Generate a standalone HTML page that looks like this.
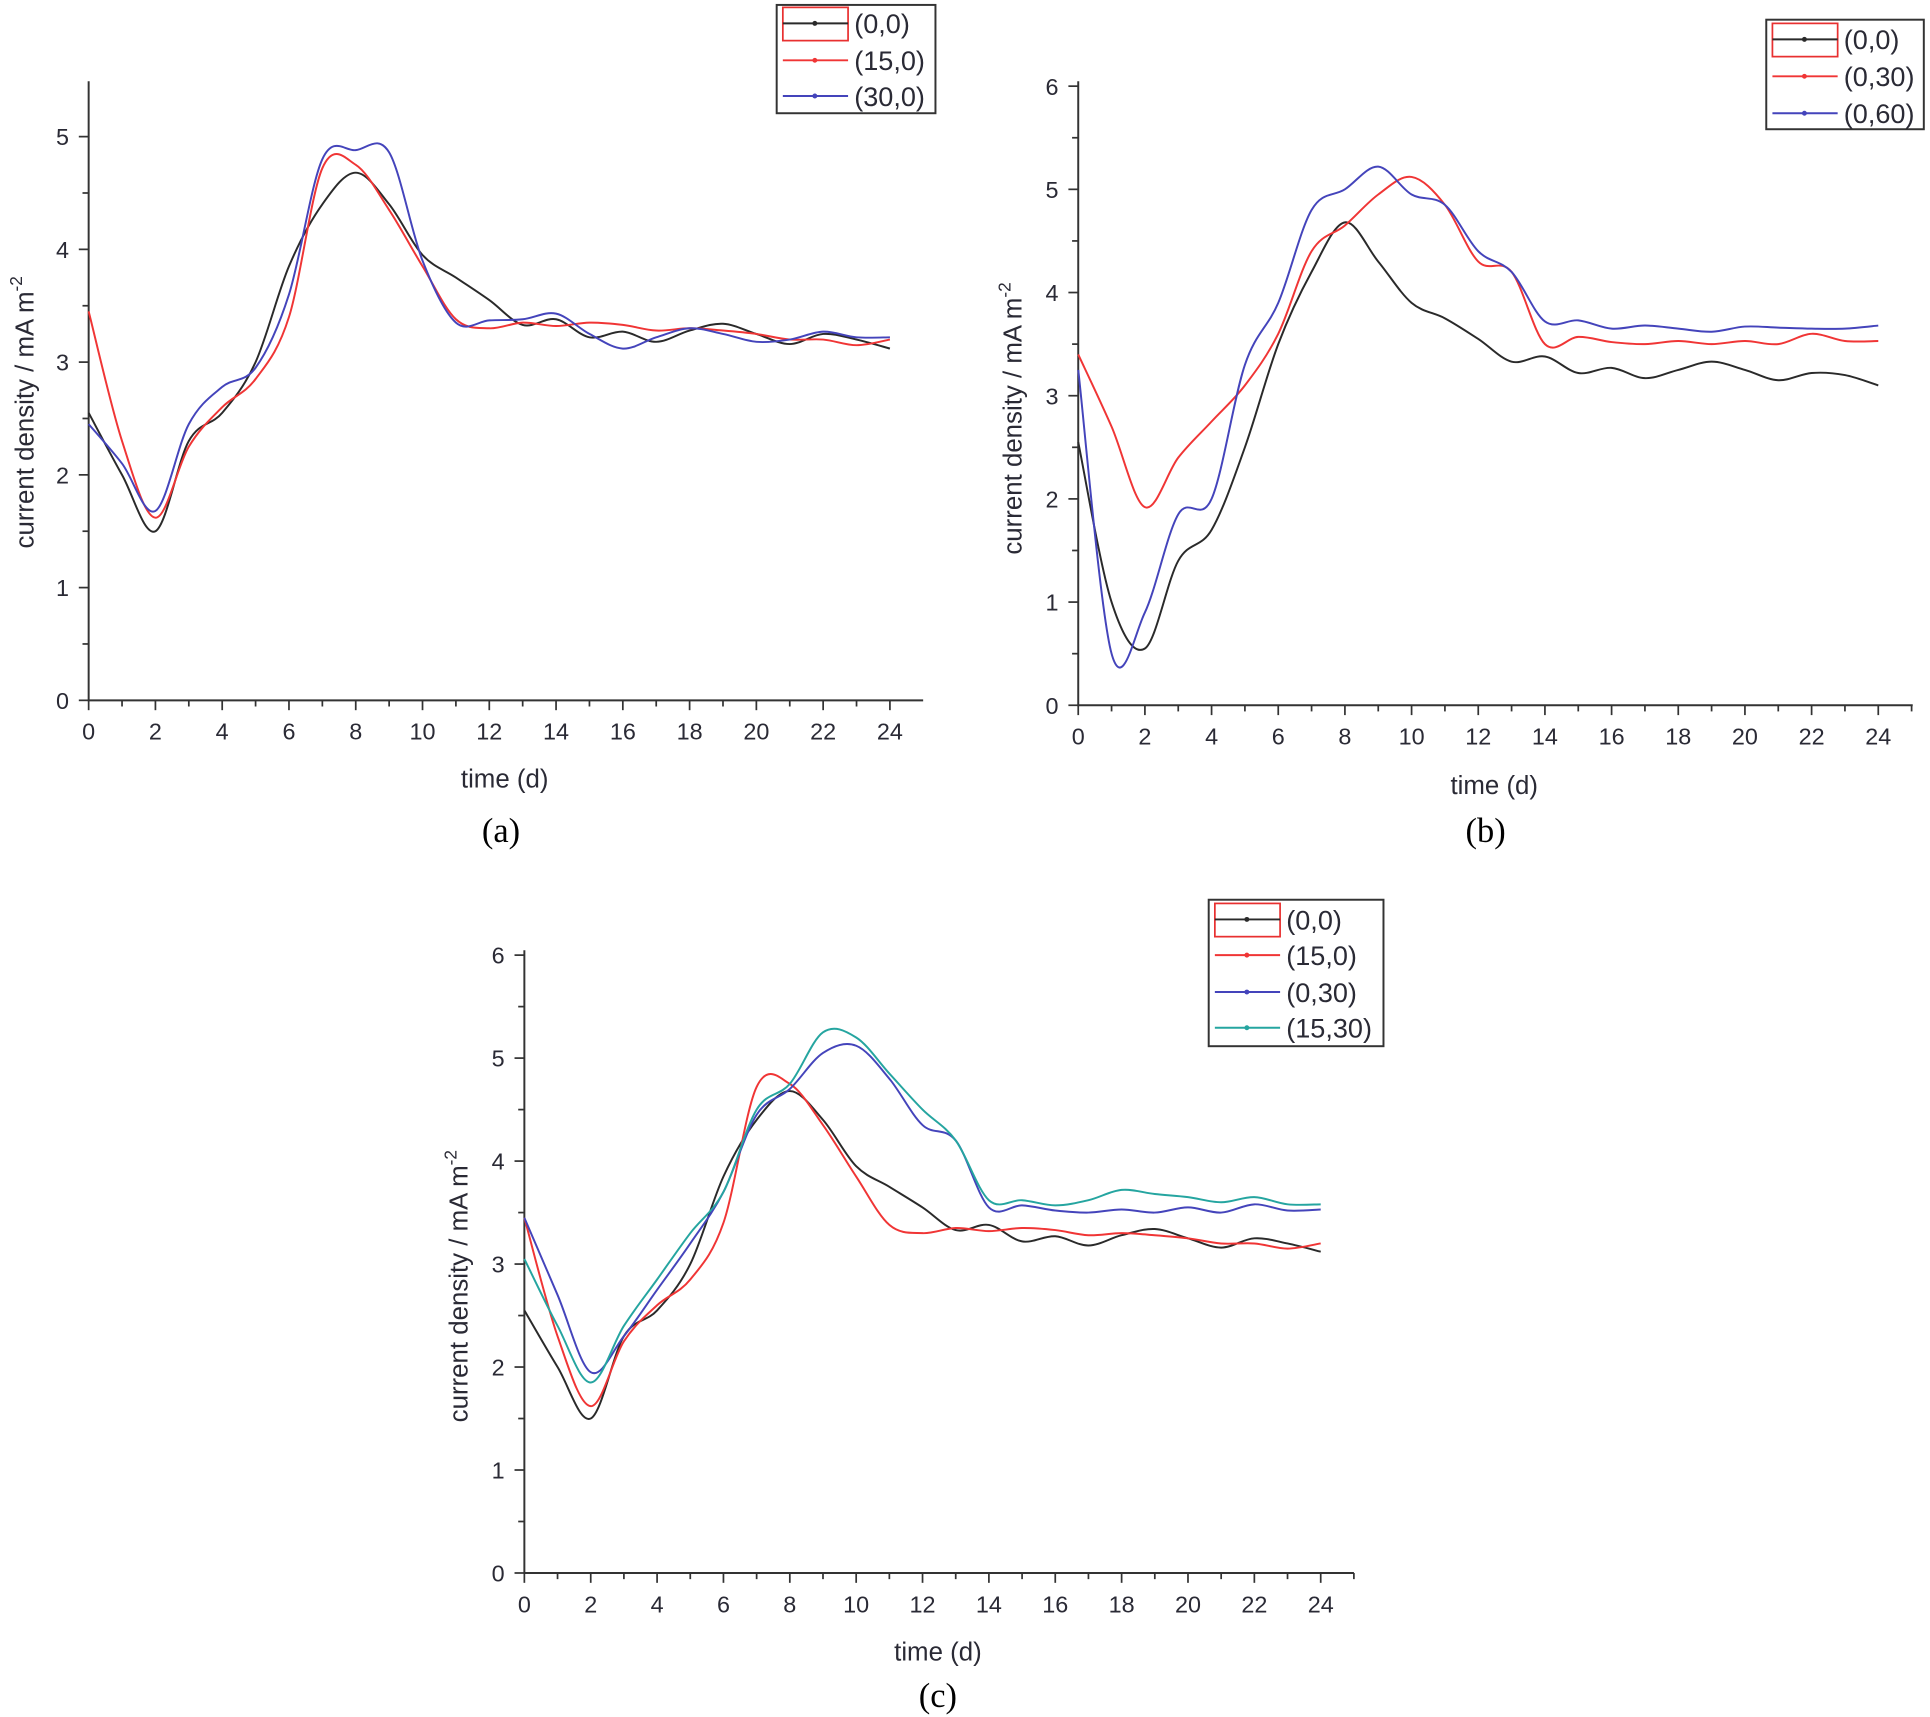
<!DOCTYPE html>
<html><head><meta charset="utf-8"><style>
html,body{margin:0;padding:0;background:#fff;}
svg{display:block;}
text{font-family:"Liberation Sans",Arial,sans-serif;fill:#2a2a35;}
.cap{font-family:"Liberation Serif","Times New Roman",serif;fill:#000;}
</style></head><body>
<svg id="fig" width="1930" height="1717" viewBox="0 0 1568 1395" xmlns="http://www.w3.org/2000/svg"></svg>
<script>
const days = [0,1,2,3,4,5,6,7,8,9,10,11,12,13,14,15,16,17,18,19,20,21,22,23,24];
const aBlack = [2.55,2.0,1.5,2.3,2.55,3.0,3.85,4.4,4.68,4.4,3.95,3.75,3.55,3.33,3.38,3.22,3.27,3.18,3.28,3.34,3.25,3.16,3.25,3.2,3.12];
const aRed = [3.45,2.3,1.62,2.25,2.6,2.85,3.4,4.72,4.75,4.35,3.85,3.38,3.3,3.35,3.32,3.35,3.33,3.28,3.3,3.28,3.25,3.2,3.2,3.15,3.2];
const aBlue = [2.45,2.1,1.68,2.45,2.78,2.95,3.6,4.8,4.88,4.86,3.9,3.35,3.37,3.38,3.43,3.25,3.12,3.22,3.3,3.25,3.18,3.2,3.27,3.22,3.22];
const bBlack = [2.55,1.0,0.55,1.4,1.7,2.5,3.5,4.2,4.68,4.3,3.9,3.75,3.55,3.33,3.38,3.22,3.27,3.17,3.25,3.33,3.25,3.15,3.22,3.2,3.1];
const bRed = [3.4,2.7,1.92,2.4,2.75,3.1,3.6,4.4,4.65,4.95,5.12,4.85,4.3,4.2,3.5,3.57,3.52,3.5,3.53,3.5,3.53,3.5,3.6,3.53,3.53];
const bBlue = [3.25,0.5,0.9,1.85,2.0,3.3,3.9,4.8,5.0,5.22,4.95,4.85,4.4,4.2,3.72,3.73,3.65,3.68,3.65,3.62,3.67,3.66,3.65,3.65,3.68];
const cBlack = aBlack;
const cRed = aRed;
const cBlue = [3.45,2.7,1.95,2.3,2.75,3.2,3.7,4.45,4.7,5.05,5.12,4.8,4.35,4.2,3.55,3.57,3.52,3.5,3.53,3.5,3.55,3.5,3.58,3.52,3.53];
const cTeal = [3.05,2.4,1.85,2.4,2.85,3.3,3.7,4.5,4.75,5.25,5.2,4.85,4.5,4.2,3.62,3.62,3.57,3.62,3.72,3.68,3.65,3.6,3.65,3.58,3.58];
const xTicks = [0,2,4,6,8,10,12,14,16,18,20,22,24];
const yTicksA = [0,1,2,3,4,5];
const yTicksB = [0,1,2,3,4,5,6];

const NS="http://www.w3.org/2000/svg";
const svg=document.getElementById('fig');
function el(tag,attrs,parent){const e=document.createElementNS(NS,tag);for(const k in attrs)e.setAttribute(k,attrs[k]);(parent||svg).appendChild(e);return e;}

function panel(cfg){
  const g=el('g',{});
  
  
  const sx=v=>cfg.x0+(cfg.x1-cfg.x0)*v/24;
  const sy=v=>cfg.y0-(cfg.y0-cfg.yTop)*v/cfg.ymaxTick;
  // axes
  const ax=el('path',{d:`M${cfg.x0} ${cfg.axTop} L${cfg.x0} ${cfg.y0} L${cfg.axRight} ${cfg.y0}`,stroke:'#333',fill:'none','stroke-width':1.6},g);
  
  
  for(let d=0;d<=25;d++){
    const x=sx(d); if(x>cfg.axRight)break;
    el('line',{x1:x,x2:x,y1:cfg.y0,y2:cfg.y0+(d%2?5:8),stroke:'#333','stroke-width':1.4},g);
  }
  xTicks.forEach(t=>{
    const tx=el('text',{x:sx(t),y:cfg.y0+32,'font-size':19,'text-anchor':'middle'},g);
    tx.textContent=t;
    
    
  });
  const yt=cfg.yTicks;
  for(let v=0;v<=cfg.ymaxTick+0.5;v+=0.5){
    const y=sy(v); if(y<cfg.axTop)break;
    el('line',{x1:cfg.x0,x2:cfg.x0-(v%1?5:8),y1:y,y2:y,stroke:'#333','stroke-width':1.4},g);
  }
  yt.forEach(t=>{
    const ty=el('text',{x:cfg.x0-16,y:sy(t)+7,'font-size':19,'text-anchor':'end'},g);
    ty.textContent=t;
    
    
  });
  const xtitle=el('text',{x:cfg.xt[0],y:cfg.xt[1],'font-size':21,'text-anchor':'middle'},g);
  xtitle.textContent='time (d)';
  
  
  const ytitle=el('text',{x:0,y:0,'font-size':21,'text-anchor':'middle',transform:`translate(${cfg.yt[0]},${cfg.yt[1]}) rotate(-90)`},g);
  ytitle.innerHTML='current density / mA m<tspan dy="-9" font-size="14">-2</tspan>';
  
  
  const cap=el('text',{x:cfg.cap[0],y:cfg.cap[1],'font-size':28,'text-anchor':'middle',class:'cap'},g);
  cap.textContent=cfg.capText;
  
  
  // series
  cfg.series.forEach(s=>{
    const pts=days.map((d,i)=>[sx(d),sy(s.data[i])]);
    let d=`M${pts[0][0]} ${pts[0][1]}`;
    for(let i=0;i<pts.length-1;i++){
      const p0=pts[Math.max(0,i-1)],p1=pts[i],p2=pts[i+1],p3=pts[Math.min(pts.length-1,i+2)];
      const c1=[p1[0]+(p2[0]-p0[0])/6,p1[1]+(p2[1]-p0[1])/6];
      const c2=[p2[0]-(p3[0]-p1[0])/6,p2[1]-(p3[1]-p1[1])/6];
      d+=` C${c1[0]} ${c1[1]} ${c2[0]} ${c2[1]} ${p2[0]} ${p2[1]}`;
    }
    const p=el('path',{d:d,stroke:s.color,fill:'none','stroke-width':1.6},g);
    
    
  });
  // legend
  const L=cfg.legend;
  const lg=el('g',{},g);
  
  
  el('rect',{x:L.x,y:L.y,width:L.w,height:L.h,fill:'#fff',stroke:'#333','stroke-width':1.6},lg);
  cfg.series.forEach((s,i)=>{
    const y=L.ys[i];
    if(i===0) el('rect',{x:L.x+5,y:y-13,width:53,height:27,fill:'none',stroke:'#e83030','stroke-width':1.4},lg);
    el('line',{x1:L.x+5,x2:L.x+58,y1:y,y2:y,stroke:s.color,'stroke-width':1.6},lg);
    el('circle',{cx:L.x+31,cy:y,r:2,fill:s.color},lg);
    const t=el('text',{x:L.x+63,y:y+8,'font-size':22},lg);
    t.textContent=s.label;
    
    
  });
}
const K='#2a2a2a',R='#f03535',B='#4444bb',T='#25a5a0';
panel({name:'panel-a',x0:72,x1:723,axRight:750,axTop:66,y0:569,yTop:111,ymaxTick:5,yTicks:yTicksA,
  xt:[410,640],yt:[27,335],cap:[407,684],capText:'(a)',
  series:[{data:aBlack,color:K,label:'(0,0)'},{data:aRed,color:R,label:'(15,0)'},{data:aBlue,color:B,label:'(30,0)'}],
  legend:{x:631,y:4,w:129,h:88,ys:[19,49,78]}});
panel({name:'panel-b',x0:876,x1:1526,axRight:1554,axTop:66,y0:573,yTop:70,ymaxTick:6,yTicks:yTicksB,
  xt:[1214,645],yt:[830,340],cap:[1207,684],capText:'(b)',
  series:[{data:bBlack,color:K,label:'(0,0)'},{data:bRed,color:R,label:'(0,30)'},{data:bBlue,color:B,label:'(0,60)'}],
  legend:{x:1435,y:16,w:128,h:89,ys:[32,62,92]}});
panel({name:'panel-c',x0:426,x1:1073,axRight:1100,axTop:772,y0:1278,yTop:776,ymaxTick:6,yTicks:yTicksB,
  xt:[762,1349],yt:[380,1045],cap:[762,1387],capText:'(c)',
  series:[{data:cBlack,color:K,label:'(0,0)'},{data:cRed,color:R,label:'(15,0)'},{data:cBlue,color:B,label:'(0,30)'},{data:cTeal,color:T,label:'(15,30)'}],
  legend:{x:982,y:731,w:142,h:119,ys:[747,776,806,835]}});
</script>
</body></html>
